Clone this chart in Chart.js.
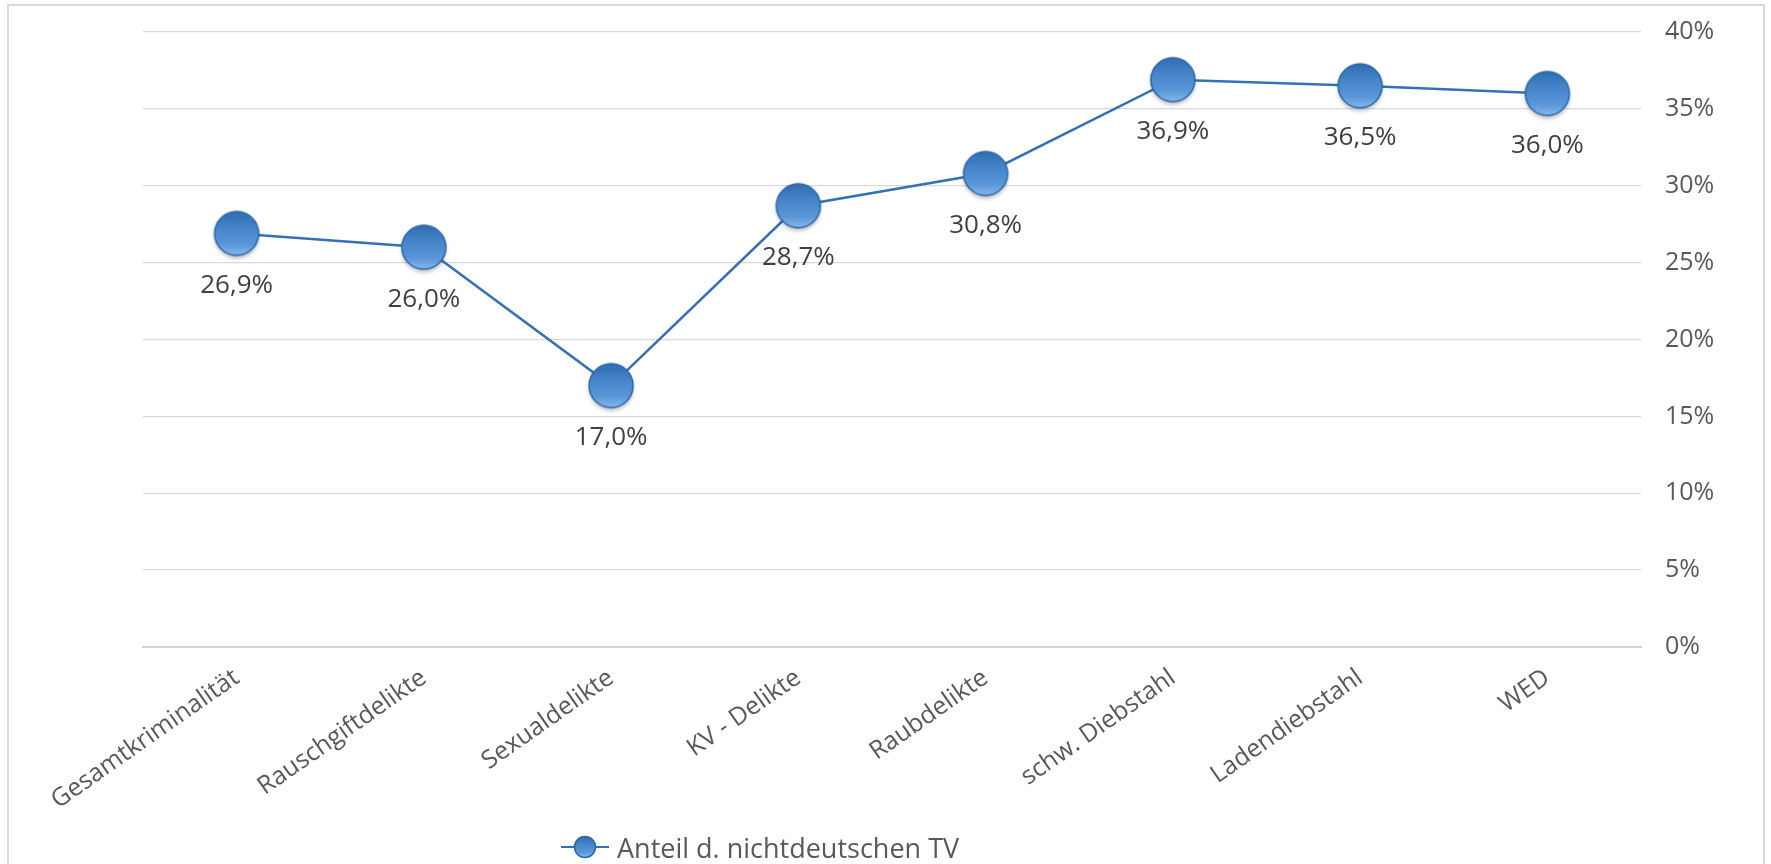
<!DOCTYPE html>
<html>
<head>
<meta charset="utf-8">
<script src="https://cdn.jsdelivr.net/npm/chart.js@4"></script>
<style>
  html, body { margin: 0; padding: 0; background: #fff; overflow: hidden; }
  #wrap { position: relative; width: 1771px; height: 864px; }
  #frame { position: absolute; left: 7px; top: 4px; width: 1758px; height: 900px; border: 2px solid #d9d9d9; box-sizing: border-box; }
  #chart { position: absolute; left: 0; top: 0; }
  #legend { position: absolute; left: 559px; top: 829px; height: 36px; display: flex; align-items: center;
            font-family: "Open Sans", sans-serif; font-size: 27px; color: #595959; }
  #legend canvas { margin-right: 6px; }
</style>
</head>
<body>
<div id="wrap">
  <div id="frame"></div>
  <canvas id="chart" width="1771" height="864"></canvas>
  <div id="legend"><canvas id="legendMark" width="52" height="34"></canvas><span id="legendText"></span></div>
</div>
<script>
// Daten
const kategorien = ['Gesamtkriminalität', 'Rauschgiftdelikte', 'Sexualdelikte', 'KV - Delikte', 'Raubdelikte', 'schw. Diebstahl', 'Ladendiebstahl', 'WED'];
const anteilWerte = [26.9, 26.0, 17.0, 28.7, 30.8, 36.9, 36.5, 36.0];
const serienName = 'Anteil d. nichtdeutschen TV';
const yTicks = [0, 5, 10, 15, 20, 25, 30, 35, 40];

const textGrau = '#595959';
const linienBlau = '#3571b5';

// Kugel-Marker (wie Excel) vorab zeichnen
function kugel(ctx, cx, cy, r, schatten) {
    ctx.save();
    if (schatten) {
        ctx.shadowColor = 'rgba(0,0,0,0.28)';
        ctx.shadowBlur = 4;
        ctx.shadowOffsetY = 3;
    }
    const g = ctx.createLinearGradient(0, cy - r, 0, cy + r);
    g.addColorStop(0, '#2f6cb0');
    g.addColorStop(0.35, '#4584c9');
    g.addColorStop(0.75, '#5a97d8');
    g.addColorStop(1, '#86b8ea');
    ctx.beginPath();
    ctx.arc(cx, cy, r, 0, Math.PI * 2);
    ctx.fillStyle = g;
    ctx.fill();
    ctx.restore();
    ctx.beginPath();
    ctx.arc(cx, cy, r, 0, Math.PI * 2);
    ctx.lineWidth = 1.5;
    ctx.strokeStyle = '#2d67a8';
    ctx.stroke();
}

const markerBild = document.createElement('canvas');
markerBild.width = 58; markerBild.height = 58;
kugel(markerBild.getContext('2d'), 29, 29, 22, true);

// Legende
document.getElementById('legendText').textContent = serienName;
const lg = document.getElementById('legendMark').getContext('2d');
lg.strokeStyle = linienBlau; lg.lineWidth = 2;
lg.beginPath(); lg.moveTo(2, 17); lg.lineTo(50, 17); lg.stroke();
kugel(lg, 26, 17, 10.5, false);

// Datenbeschriftungen unter den Punkten
const wertLabels = {
    id: 'wertLabels',
    afterDatasetsDraw(chart) {
        const ctx = chart.ctx;
        const meta = chart.getDatasetMeta(0);
        ctx.save();
        ctx.font = '26px "Open Sans", sans-serif';
        ctx.fillStyle = '#404040';
        ctx.textAlign = 'center';
        ctx.textBaseline = 'middle';
        meta.data.forEach((pt, i) => {
            const txt = anteilWerte[i].toFixed(1).replace('.', ',') + '%';
            ctx.fillText(txt, pt.x, pt.y + 52);
        });
        ctx.restore();
    }
};

new Chart(document.getElementById('chart'), {
    type: 'line',
    data: {
        labels: kategorien,
        datasets: [{
            label: serienName,
            data: anteilWerte,
            borderColor: linienBlau,
            borderWidth: 2.5,
            tension: 0,
            pointStyle: markerBild,
            pointRadius: 22,
            pointHoverRadius: 22
        }]
    },
    options: {
        responsive: false,
        animation: false,
        events: [],
        layout: { padding: { left: 143, top: 32, right: 0, bottom: 50 } },
        plugins: { legend: { display: false }, tooltip: { enabled: false } },
        scales: {
            x: {
                offset: true,
                grid: { display: false, drawTicks: false },
                border: { display: true, color: '#d4d4d4', width: 2 },
                ticks: {
                    color: textGrau,
                    font: { family: '"Open Sans", sans-serif', size: 25 },
                    minRotation: 35, maxRotation: 35,
                    padding: 16,
                    autoSkip: false
                },
                afterFit(s) { s.height = 167; }
            },
            y: {
                position: 'right',
                min: 0, max: 40,
                afterBuildTicks(s) { s.ticks = yTicks.map(v => ({ value: v })); },
                grid: { color: '#d9d9d9', lineWidth: 1.3, drawTicks: false },
                border: { display: false },
                ticks: {
                    color: textGrau,
                    font: { family: '"Open Sans", sans-serif', size: 25 },
                    padding: 24,
                    callback: v => v + '%'
                },
                afterFit(s) { s.width = 130; s.paddingTop = 0; s.paddingBottom = 0; }
            }
        }
    },
    plugins: [wertLabels]
});
</script>
</body>
</html>
